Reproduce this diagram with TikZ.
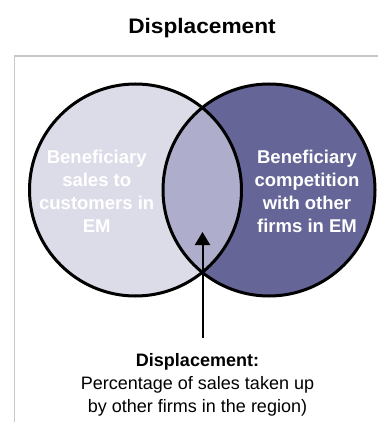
\documentclass[tikz,border=0pt]{standalone}
\usepackage{fontspec}
\setmainfont{Liberation Sans}
\usetikzlibrary{arrows.meta}
\definecolor{leftfill}{HTML}{DCDCE8}
\definecolor{midfill}{HTML}{AEAECC}
\definecolor{rightfill}{HTML}{656597}
\definecolor{framegray}{HTML}{C8C8C8}
\begin{document}
\begin{tikzpicture}[x=1pt,y=-1pt,
  ring/.style={draw=black,line width=3pt},
  intext/.style={text=white,font=\fontsize{18.5}{23}\selectfont\bfseries,align=center,inner sep=0pt,anchor=north},
  caption/.style={text=black,font=\fontsize{18}{23}\selectfont,align=center,inner sep=0pt,anchor=north},
  pointer/.style={draw=black,line width=2pt,-{Triangle[width=15pt,length=13pt]}}]
\useasboundingbox (0,0) rectangle (378,422);
\fill[white] (0,0) rectangle (378,422);
% frame
\draw[framegray,line width=1.5pt] (14.3,422) -- (14.3,56) -- (378,56);
% title
\node[font=\fontsize{21}{24}\selectfont\bfseries,anchor=base,inner sep=0pt] (title) at (202,34) {\scalebox{1.08}[1]{Displacement}};
% circles
\coordinate (cl) at (135.5,190);
\coordinate (cr) at (269,190);
\fill[leftfill] (cl) circle[radius=106];
\fill[rightfill] (cr) circle[radius=106];
\begin{scope}
  \clip (cl) circle[radius=106];
  \fill[midfill] (cr) circle[radius=106];
\end{scope}
\draw[ring] (cl) circle[radius=106];
\draw[ring] (cr) circle[radius=106];
% texts
\node[intext] (lefttext) at (96.7,150) {Beneficiary\\sales to\\customers in\\EM};
\node[intext] (righttext) at (307,150) {Beneficiary\\competition\\with other\\firms in EM};
\node[caption] (cap) at (197.5,353) {\textbf{Displacement:}\\Percentage of sales taken up\\ by other firms in the region)};
% arrow
\coordinate (tip) at (202.5,232);
\coordinate (tail) at (202.5,338);
\draw[pointer] (tail) -- (tip);
\end{tikzpicture}
\end{document}
